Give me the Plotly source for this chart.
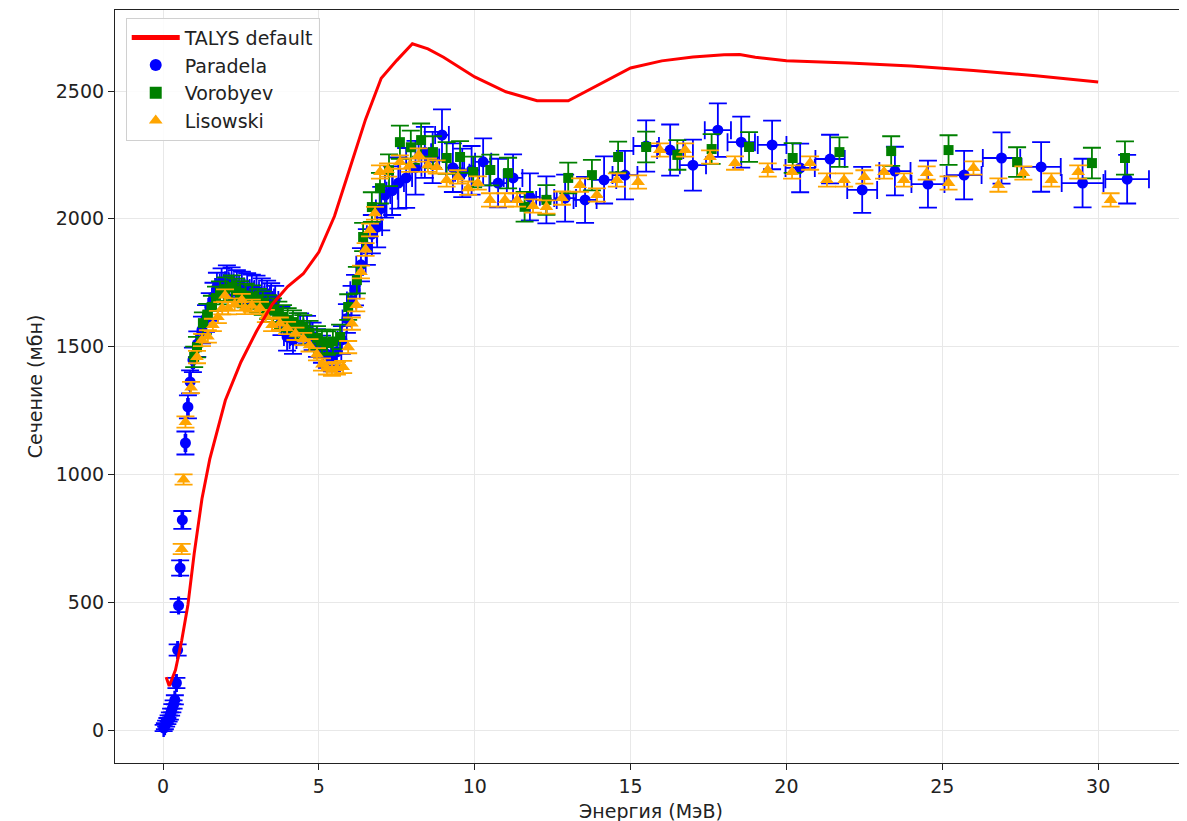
import plotly.graph_objects as go

# ---------------- data ----------------
talys_e = [0.1, 0.2, 0.4, 0.6, 0.8, 1.0, 1.25, 1.5, 2.0, 2.5, 3.0, 3.5, 4.0, 4.5, 5.0, 5.5, 6.0, 6.5, 7.0,
           7.5, 8.0, 8.5, 9.0, 10.0, 11.0, 12.0, 13.0, 14.0, 15.0, 16.0, 17.0, 18.0, 18.5, 19.0, 20.0,
           22.0, 24.0, 26.0, 28.0, 30.0]
talys_xs = [207, 172, 235, 350, 490, 690, 905, 1060, 1290, 1440, 1560, 1665, 1735, 1785, 1870, 2010, 2200,
            2390, 2550, 2620, 2685, 2665, 2632, 2555, 2497, 2462, 2462, 2525, 2590, 2618, 2633, 2642, 2643,
            2632, 2618, 2610, 2598, 2580, 2560, 2535]

par_e = [0.02, 0.06, 0.10, 0.14, 0.18, 0.22, 0.26, 0.30, 0.34, 0.38, 0.43, 0.47, 0.50, 0.55, 0.62, 0.72,
         0.80, 0.87, 0.96, 1.10, 1.25, 1.38, 1.50, 1.62, 1.73, 1.88, 2.05, 2.20, 2.37, 2.53, 2.70, 2.85,
         3.00, 3.17, 3.34, 3.47, 3.60, 3.80, 3.98, 4.17, 4.40, 4.62, 4.80, 4.94, 5.10, 5.26, 5.42, 5.58,
         5.74, 5.90, 6.05, 6.16, 6.35, 6.54, 6.70, 6.87, 7.00, 7.12, 7.35, 7.55, 7.80, 8.10, 8.40, 8.65,
         8.95, 9.30, 9.60, 9.90, 10.27, 10.75, 11.23, 11.77, 12.30, 12.90, 13.54, 14.15, 14.82, 15.50,
         16.27, 17.00, 17.80, 18.55, 19.54, 20.44, 21.40, 22.43, 23.48, 24.54, 25.70, 26.90, 28.17,
         29.50, 30.93]
par_xs = [8, 15, 25, 35, 45, 55, 70, 85, 100, 118, 184, 313, 487, 634, 822, 1123,
          1264, 1362, 1448, 1510, 1565, 1610, 1655, 1695, 1733, 1750, 1760, 1752, 1741, 1735, 1729, 1725,
          1721, 1710, 1702, 1692, 1682, 1600, 1538, 1526, 1575, 1565, 1540, 1514, 1490, 1470, 1455, 1480,
          1526, 1610, 1680, 1721, 1820, 1890, 1940, 1968, 2040, 2093, 2110, 2140, 2160, 2200, 2260, 2240,
          2328, 2200, 2180, 2190, 2223, 2140, 2160, 2086, 2074, 2081, 2074, 2152, 2171, 2285,
          2269, 2210, 2347, 2300, 2289, 2199, 2234, 2113, 2187, 2136, 2171, 2238, 2203,
          2140, 2155]
par_de = [0.01, 0.01, 0.01, 0.01, 0.02, 0.02, 0.02, 0.02, 0.02, 0.02, 0.02, 0.02, 0.02, 0.03, 0.03, 0.03,
          0.03, 0.03, 0.04, 0.04, 0.05, 0.05, 0.05, 0.05, 0.06, 0.06, 0.06, 0.07, 0.07, 0.07, 0.08, 0.08,
          0.08, 0.09, 0.09, 0.09, 0.10, 0.10, 0.10, 0.11, 0.11, 0.12, 0.12, 0.12, 0.13, 0.13, 0.13, 0.14,
          0.14, 0.14, 0.15, 0.15, 0.15, 0.16, 0.16, 0.16, 0.17, 0.17, 0.18, 0.18, 0.19, 0.19, 0.20, 0.21,
          0.22, 0.22, 0.23, 0.24, 0.26, 0.28, 0.30, 0.32, 0.33, 0.35, 0.37, 0.39, 0.40, 0.41,
          0.42, 0.42, 0.42, 0.44, 0.46, 0.47, 0.47, 0.48, 0.50, 0.53, 0.56, 0.60, 0.63,
          0.67, 0.70]
par_ds = [12, 12, 12, 12, 12, 14, 14, 16, 16, 18, 20, 22, 26, 30, 35, 45,
          45, 45, 48, 50, 52, 52, 54, 55, 56, 56, 58, 58, 58, 58, 58, 57,
          57, 57, 56, 56, 56, 55, 54, 54, 55, 55, 54, 54, 53, 53, 52, 53,
          54, 56, 58, 60, 65, 70, 75, 80, 85, 88, 95, 100, 117, 105, 100, 100,
          100, 95, 95, 95, 92, 95, 92, 92, 92, 92, 90, 92, 95, 100,
          100, 100, 105, 100, 95, 95, 95, 90, 95, 92, 95, 100, 97,
          95, 95]

vor_e = [1.00, 1.09, 1.28, 1.42, 1.57, 1.70, 1.83, 2.00, 2.21, 2.35, 2.47, 2.65, 2.86, 3.05, 3.20, 3.37,
         3.53, 3.70, 3.85, 4.00, 4.17, 4.33, 4.50, 4.70, 4.94, 5.10, 5.26, 5.45, 5.68, 5.94, 6.22, 6.42,
         6.70, 6.96, 7.25, 7.60, 7.95, 8.28, 8.66, 9.10, 9.53, 9.95, 10.50, 11.07, 11.60, 12.30, 13.00,
         13.76, 14.60, 15.50, 16.50, 17.60, 18.80, 20.20, 21.70, 23.36, 25.20, 27.40, 29.80, 30.86]
vor_xs = [1460, 1498, 1592, 1625, 1655, 1690, 1710, 1725, 1733, 1720, 1710, 1700, 1694, 1680, 1670, 1655,
          1643, 1630, 1616, 1605, 1596, 1585, 1577, 1555, 1534, 1520, 1514, 1520, 1538, 1655, 1760, 1929,
          2046, 2120, 2190, 2300, 2280, 2308, 2261, 2238, 2242, 2183, 2191, 2179, 2047, 2074, 2160,
          2171, 2242, 2281, 2250, 2273, 2281, 2238, 2261, 2265, 2269, 2222, 2218, 2238]
vor_ds = [40, 40, 42, 42, 44, 45, 45, 46, 46, 46, 46, 46, 46, 46, 46, 46,
          46, 46, 46, 46, 46, 46, 46, 46, 46, 46, 46, 46, 48, 50, 52, 55,
          58, 60, 62, 65, 65, 65, 62, 62, 62, 60, 60, 60, 58, 58, 60,
          60, 60, 60, 58, 58, 58, 58, 58, 58, 58, 58, 60, 65]

lis_e = [0.60, 0.66, 0.72, 0.90, 1.09, 1.25, 1.44, 1.60, 1.76, 1.90, 1.99, 2.09, 2.30, 2.53, 2.63, 2.85,
         3.11, 3.30, 3.50, 3.75, 3.98, 4.25, 4.50, 4.70, 4.94, 5.10, 5.26, 5.42, 5.58, 5.78, 5.94, 6.06,
         6.20, 6.35, 6.50, 6.64, 6.80, 6.96, 7.22, 7.60, 7.92, 8.20, 8.50, 8.78, 9.10, 9.46, 9.79, 10.10,
         10.49, 10.97, 11.36, 11.87, 12.30, 12.80, 13.38, 13.92, 14.56, 15.24, 15.94, 16.75, 17.55, 18.35,
         19.40, 20.18, 20.76, 21.30, 21.85, 22.50, 23.13, 23.77, 24.50, 25.20, 26.00, 26.80, 27.60, 28.50,
         29.36, 30.40]
lis_xs = [708, 980, 1205, 1340, 1459, 1526, 1540, 1585, 1616, 1650, 1700, 1650, 1665, 1682, 1651, 1660,
          1651, 1620, 1585, 1590, 1573, 1550, 1530, 1505, 1470, 1430, 1415, 1410, 1415, 1420, 1498, 1590,
          1663, 1792, 1880, 1956, 2022, 2183, 2191, 2222, 2210, 2250, 2210, 2203, 2152, 2164, 2120, 2140,
          2074, 2074, 2074, 2050, 2046, 2081, 2132, 2093, 2152, 2144, 2269, 2269, 2242, 2218,
          2191, 2183, 2218, 2152, 2152, 2164, 2183, 2152, 2179, 2140, 2199, 2132, 2179, 2152,
          2183, 2074]
lis_ds = [20, 20, 22, 22, 24, 24, 24, 24, 24, 24, 24, 24, 24, 24, 24, 24,
          24, 24, 24, 24, 24, 24, 24, 24, 24, 24, 24, 24, 24, 24, 24, 24,
          25, 25, 25, 25, 25, 26, 26, 26, 26, 26, 26, 26, 26, 26, 26, 26,
          26, 26, 26, 26, 26, 26, 26, 26, 26, 26, 26, 26, 26, 26,
          26, 26, 26, 26, 26, 26, 26, 26, 26, 26, 26, 26, 26, 26,
          26, 26]

x_ticks = [0, 5, 10, 15, 20, 25, 30]
y_ticks = [0, 500, 1000, 1500, 2000, 2500]

# ---------------- figure ----------------
FONT = "DejaVu Sans"
FS = 19
fig = go.Figure()

fig.add_trace(go.Scatter(
    x=par_e, y=par_xs, mode="markers", name="Paradela", legendrank=2, legendgroup="p",
    marker=dict(symbol="circle", size=11, color="blue"),
    error_x=dict(type="data", array=par_de, visible=True, color="blue", thickness=1.8, width=9),
    error_y=dict(type="data", array=par_ds, visible=True, color="blue", thickness=1.8, width=9),
))
fig.add_trace(go.Scatter(
    x=vor_e, y=vor_xs, mode="markers", name="Vorobyev", legendrank=3, legendgroup="v",
    marker=dict(symbol="square", size=10, color="green"),
    error_y=dict(type="data", array=vor_ds, visible=True, color="green", thickness=1.8, width=9),
))
fig.add_trace(go.Scatter(
    x=lis_e, y=lis_xs, mode="markers", name="Lisowski", legendrank=4, legendgroup="l",
    marker=dict(symbol="triangle-up", size=12, color="orange"),
    error_y=dict(type="data", array=lis_ds, visible=True, color="orange", thickness=1.8, width=9),
))
fig.add_trace(go.Scatter(
    x=talys_e, y=talys_xs, mode="lines", name="TALYS default", legendrank=1, legendgroup="t",
    line=dict(color="red", width=3),
))

fig.update_layout(
    width=1187, height=821,
    margin=dict(l=107, r=8, t=2, b=66),
    paper_bgcolor="white", plot_bgcolor="white",
    font=dict(family=FONT, size=FS, color="#222222"),
    showlegend=True,
    legend=dict(x=0.01, y=0.99, xanchor="left", yanchor="top",
                bgcolor="rgba(255,255,255,0.85)", bordercolor="#d0d0d0", borderwidth=1,
                font=dict(family=FONT, size=FS), itemsizing="constant", itemwidth=48,
                traceorder="grouped", tracegroupgap=0),
)
fig.update_xaxes(
    range=[-1.54, 32.85], tickmode="array", tickvals=x_ticks,
    showgrid=True, gridcolor="#e8e8e8", gridwidth=1, zeroline=False,
    showline=True, linecolor="#222222", linewidth=1.2, mirror=True,
    ticks="outside", ticklen=6, tickcolor="#222222", tickfont=dict(size=FS),
    automargin=False,
    title=dict(text="Энергия (МэВ)", font=dict(size=FS), standoff=8),
)
fig.update_yaxes(
    range=[-129, 2817], tickmode="array", tickvals=y_ticks,
    showgrid=True, gridcolor="#e8e8e8", gridwidth=1, zeroline=False,
    showline=True, linecolor="#222222", linewidth=1.2,
    ticks="outside", ticklen=6, tickcolor="#222222", tickfont=dict(size=FS),
    automargin=False,
    title=dict(text="Сечение (мбн)", font=dict(size=FS), standoff=8),
)

fig.write_html("out.html")
